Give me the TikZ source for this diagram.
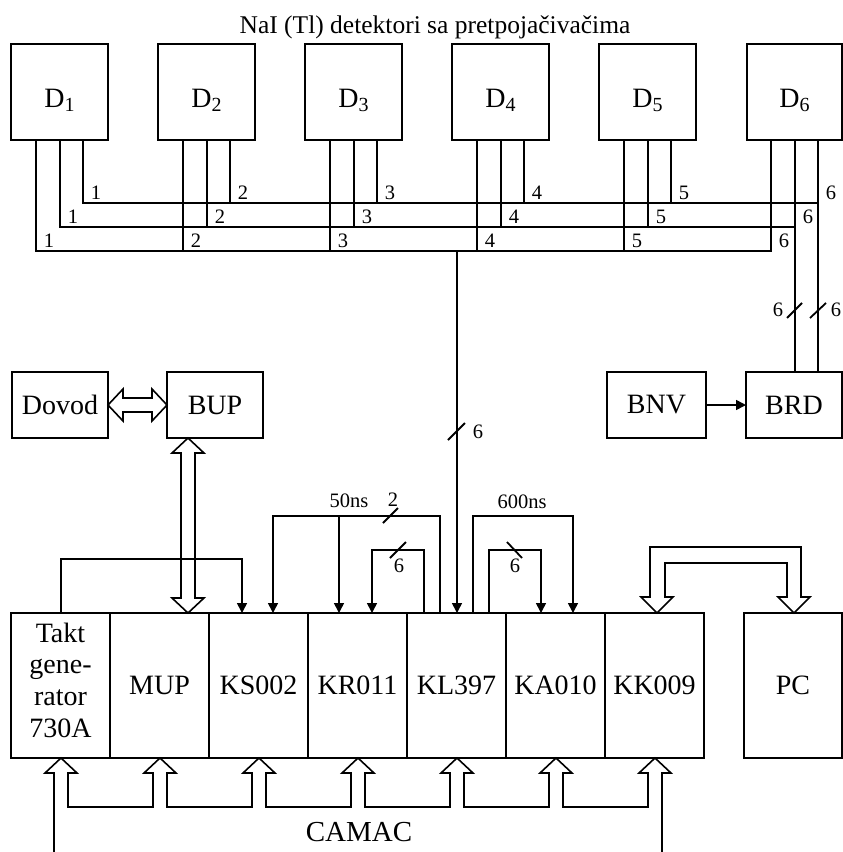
\documentclass[tikz,border=0pt]{standalone}
\usepackage{fontspec}
\setmainfont{Liberation Serif}
\usetikzlibrary{arrows.meta,calc}
\newcommand\bigf{\fontsize{28}{31.7}\selectfont}
\newcommand\smallf{\fontsize{20.5}{22}\selectfont}
\newcommand\titlef{\fontsize{25.5}{28}\selectfont}
\newcommand\camf{\fontsize{29}{31}\selectfont}
\newcommand\dlab[1]{D\raisebox{-4pt}{\fontsize{20}{20}\selectfont #1}}
\begin{document}
\begin{tikzpicture}[x=1pt,y=-1pt,line width=1.6pt,line join=miter,
  box/.style={draw,rectangle,inner sep=0pt,outer sep=0pt,font=\bigf},
  tip/.style={-{Triangle[length=10pt,width=10pt]}},
  lab/.style={font=\smallf,inner sep=0pt},
  slashmark/.style={line width=1.8pt},
  hollow/.style={draw,line width=1.6pt}]
\useasboundingbox (0,0) rectangle (843,852);

% title
\node[font=\titlef,anchor=base,inner sep=0pt] (title) at (435,33) {NaI (Tl) detektori sa pretpojačivačima};

% detectors
\node[box,minimum width=97pt,minimum height=96pt,line width=2.6pt] (D1) at (59.5,92) {};
\node[box,minimum width=97pt,minimum height=96pt] (D2) at (206.5,92) {};
\node[box,minimum width=97pt,minimum height=96pt] (D3) at (353.5,92) {};
\node[box,minimum width=97pt,minimum height=96pt] (D4) at (500.5,92) {};
\node[box,minimum width=97pt,minimum height=96pt] (D5) at (647.5,92) {};
\node[box,minimum width=95pt,minimum height=96pt] (D6) at (794.5,92) {};
\foreach \i in {1,...,6}{
  \node[font=\bigf,anchor=base,inner sep=0pt] (dl\i) at ([yshift=-15pt]D\i.center) {\dlab{\i}};
  \coordinate (Da\i) at ([xshift=-23.5pt]D\i.south);
  \coordinate (Db\i) at ([xshift=0.5pt]D\i.south);
  \coordinate (Dc\i) at ([xshift=23.5pt]D\i.south);
}

% middle boxes
\node[box,minimum width=96pt,minimum height=66pt] (Dovod) at (60,405) {Dovod};
\node[box,minimum width=96pt,minimum height=66pt] (BUP) at (215,405) {BUP};
\node[box,minimum width=99pt,minimum height=66pt] (BNV) at (656.5,405) {BNV};
\node[box,minimum width=96pt,minimum height=66pt] (BRD) at (794,405) {BRD};

% CAMAC crate cells
\node[box,minimum width=99pt,minimum height=145pt] (c1) at (60.5,685.5) {};
\node[box,minimum width=99pt,minimum height=145pt] (c2) at (159.5,685.5) {MUP};
\node[box,minimum width=99pt,minimum height=145pt] (c3) at (258.5,685.5) {KS002};
\node[box,minimum width=99pt,minimum height=145pt] (c4) at (357.5,685.5) {KR011};
\node[box,minimum width=99pt,minimum height=145pt] (c5) at (456.5,685.5) {KL397};
\node[box,minimum width=99pt,minimum height=145pt] (c6) at (555.5,685.5) {KA010};
\node[box,minimum width=99pt,minimum height=145pt] (c7) at (654.5,685.5) {KK009};
\node[font=\bigf,align=center,inner sep=0pt] (taktl) at ([yshift=5.5pt]c1.center) {Takt\\gene-\\rator\\730A};
\node[box,minimum width=98pt,minimum height=145pt] (PC) at (793,685.5) {PC};
\foreach \n in {1,...,7}{
  \coordinate (m\n) at ([xshift=0.5pt]c\n.south);
  \coordinate (u\n) at ([xshift=0.5pt]c\n.north);
}

% bus levels
\coordinate (yTop) at (0,203);
\coordinate (yMid) at (0,227);
\coordinate (yBot) at (0,251);

\draw (Dc1) |- (Dc6 |- yTop);
\draw (Dc6) -- (Dc6 |- BRD.north);
\draw (Db1) |- (Db6 |- yMid);
\draw (Db6) -- (Db6 |- BRD.north);
\draw (Da1) |- (Da6 |- yBot) -- (Da6);
\foreach \i in {2,...,5}{
  \draw (Da\i) -- (Da\i |- yBot);
  \draw (Db\i) -- (Db\i |- yMid);
  \draw (Dc\i) -- (Dc\i |- yTop);
}
\foreach \i in {1,...,6}{
  \node[lab,anchor=base west,xshift=7pt,yshift=4pt] (lt\i) at (Dc\i |- yTop) {\i};
  \node[lab,anchor=base west,xshift=7pt,yshift=4pt] (lm\i) at (Db\i |- yMid) {\i};
  \node[lab,anchor=base west,xshift=7pt,yshift=4pt] (lb\i) at (Da\i |- yBot) {\i};
}

% bus to KL397
\coordinate (busK) at (u5 |- yBot);
\draw[tip] (busK) -- (u5);
\draw[slashmark] (448,440) -- (465,423);
\node[lab] (s6a) at (478,432) {6};

% BRD marks
\draw[slashmark] (787,318) -- (802,303);
\node[lab] (s6b) at (778,310) {6};
\draw[slashmark] (810,318) -- (826,303);
\node[lab] (s6c) at (836,310) {6};

% BNV -> BRD
\draw[tip] (BNV.east) -- (BRD.west);

% Dovod <=> BUP
\draw[hollow] (Dovod.east) -- ++(15,-16) -- ++(0,9) -- ($(BUP.west)+(-15,-7)$) -- ++(0,-9) -- (BUP.west)
  -- ++(-15,16) -- ++(0,-9) -- ($(Dovod.east)+(15,7)$) -- ++(0,9) -- cycle;

% BUP <=> MUP
\coordinate (hA) at ([xshift=-27pt]BUP.south);
\coordinate (hB) at (hA |- c2.north);
\draw[hollow] (hA) -- ++(16,15) -- ++(-9,0) -- ($(hB)+(7,-15)$) -- ++(9,0) -- (hB)
  -- ++(-16,-15) -- ++(9,0) -- ($(hA)+(-7,15)$) -- ++(-9,0) -- cycle;

% KK009 <=> PC
\coordinate (kA) at ([xshift=2.5pt]c7.north);
\coordinate (kB) at ([xshift=1pt]PC.north);
\draw[hollow] (kA) -- ++(-16,-16) -- ++(9,0) -- ++(0,-50) -- ($(kB)+(7,-66)$) -- ++(0,50) -- ++(9,0) -- (kB)
  -- ++(-16,-16) -- ++(9,0) -- ++(0,-34) -- ($(kA)+(8,-50)$) -- ++(0,34) -- ++(8,0) -- cycle;

% signal brackets
\coordinate (yA) at (0,559);
\coordinate (yB) at (0,516);
\coordinate (yC) at (0,550);
\coordinate (t3) at ([xshift=-16.5pt]c3.north);
\draw[tip] (u1) -- (u1 |- yA) -| (t3);

\coordinate (a1) at ([xshift=-16.5pt]c5.north);
\coordinate (a2) at ([xshift=14.5pt]c3.north);
\coordinate (a3) at ([xshift=-18.5pt]c4.north);
\draw[tip] (a1) -- (a1 |- yB) -| (a2);
\draw[tip] (a3 |- yB) -- (a3);

\coordinate (b1) at ([xshift=-32.5pt]c5.north);
\coordinate (b2) at ([xshift=14.5pt]c4.north);
\draw[tip] (b1) -- (b1 |- yC) -| (b2);

\coordinate (d1) at ([xshift=16.5pt]c5.north);
\coordinate (d2) at ([xshift=17.5pt]c6.north);
\draw[tip] (d1) -- (d1 |- yB) -| (d2);

\coordinate (e1) at ([xshift=32.5pt]c5.north);
\coordinate (e2) at ([xshift=-14.5pt]c6.north);
\draw[tip] (e1) -- (e1 |- yC) -| (e2);

\draw[slashmark] (383,523) -- (398,508);
\node[lab] (n2) at (393,500) {2};
\node[lab] (n50) at (349,501) {50ns};
\node[lab] (n600) at (522,502) {600ns};
\draw[slashmark] (390,558) -- (406,542);
\node[lab] (s6d) at (399,566) {6};
\draw[slashmark] (507,542) -- (522,558);
\node[lab] (s6e) at (515,566) {6};

% CAMAC bus
\draw[hollow] ($(m1)+(-7,94)$) -- ($(m1)+(-7,15)$) -- ++(-9,0) -- (m1) -- ++(16,15) -- ++(-9,0) -- ++(0,34)
  \foreach \n in {2,...,6} { -- ($(m\n)+(-7,49)$) -- ++(0,-34) -- ++(-9,0) -- (m\n) -- ++(16,15) -- ++(-9,0) -- ++(0,34) }
  -- ($(m7)+(-7,49)$) -- ++(0,-34) -- ++(-9,0) -- (m7) -- ++(16,15) -- ++(-9,0) -- ++(0,79);
\node[font=\camf,inner sep=0pt] (camac) at (359,832) {CAMAC};
\end{tikzpicture}
\end{document}
